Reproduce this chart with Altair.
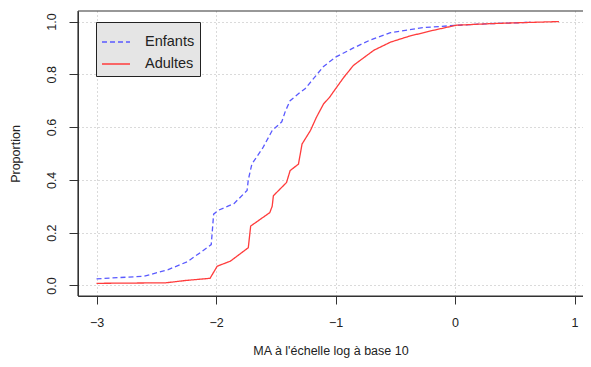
import altair as alt
import pandas as pd

enf_x = [-3.0, -2.6, -2.4, -2.24, -2.13, -2.04, -2.02, -1.98, -1.85, -1.74, -1.73, -1.70, -1.61, -1.53,
         -1.45, -1.42, -1.38, -1.30, -1.255, -1.10, -1.0, -0.85, -0.71, -0.54, -0.27, 0.02, 0.29, 0.57, 0.63]
enf_y = [0.025, 0.035, 0.06, 0.09, 0.125, 0.155, 0.27, 0.285, 0.31, 0.36, 0.40, 0.46, 0.52, 0.587,
         0.62, 0.66, 0.70, 0.73, 0.745, 0.83, 0.865, 0.90, 0.93, 0.958, 0.977, 0.986, 0.992, 0.996, 1.0]

adu_x = [-3.0, -2.42, -2.25, -2.05, -1.99, -1.88, -1.73, -1.71, -1.55, -1.53, -1.52, -1.41, -1.38, -1.31,
         -1.28, -1.21, -1.16, -1.10, -1.05, -1.0, -0.93, -0.85, -0.68, -0.54, -0.38, -0.18, 0.01, 0.29, 0.57, 0.87]
adu_y = [0.008, 0.01, 0.019, 0.027, 0.073, 0.092, 0.143, 0.225, 0.276, 0.30, 0.34, 0.39, 0.435, 0.46,
         0.536, 0.587, 0.637, 0.688, 0.713, 0.745, 0.789, 0.834, 0.891, 0.922, 0.945, 0.967, 0.986, 0.992, 0.996, 1.0]

groups = ["Enfants", "Adultes"]
x_ticks = [-3, -2, -1, 0, 1]
y_ticks = [0.0, 0.2, 0.4, 0.6, 0.8, 1.0]
x_lim = [-3.155, 1.071]
y_lim = [-0.04, 1.04]

df = pd.concat([
    pd.DataFrame({"x": enf_x, "y": enf_y, "g": groups[0]}),
    pd.DataFrame({"x": adu_x, "y": adu_y, "g": groups[1]}),
])

W, H = 505, 285
font = "Liberation Sans"
ink = "#333333"

xscale = alt.Scale(domain=x_lim, nice=False, zero=False)
yscale = alt.Scale(domain=y_lim, nice=False, zero=False)

lines = alt.Chart(df).mark_line(strokeWidth=1.3).encode(
    x=alt.X("x:Q", scale=xscale,
            axis=alt.Axis(values=x_ticks, format="d", title="MA à l'échelle log à base 10",
                          grid=True, gridDash=[1, 3], gridColor="#b5b5b5",
                          domain=True, domainColor=ink, domainWidth=1,
                          tickColor=ink, tickSize=8, tickWidth=1,
                          labelPadding=12, labelFontSize=12.5, labelColor="#222222",
                          titleFontSize=12.5, titleColor="#222222", titleFontWeight="normal",
                          titlePadding=16, labelFont=font, titleFont=font)),
    y=alt.Y("y:Q", scale=yscale,
            axis=alt.Axis(values=y_ticks, format=".1f", title="Proportion",
                          grid=True, gridDash=[1, 3], gridColor="#b5b5b5",
                          domain=True, domainColor=ink, domainWidth=1,
                          tickColor=ink, tickSize=9, tickWidth=1,
                          labelAngle=270, labelAlign="center", labelBaseline="bottom",
                          labelPadding=11, labelFontSize=12.5, labelColor="#222222",
                          titleFontSize=12.5, titleColor="#222222", titleFontWeight="normal",
                          titlePadding=23, labelFont=font, titleFont=font)),
    color=alt.Color("g:N", scale=alt.Scale(domain=groups, range=["#5a5aff", "#ff3c3c"]),
                    legend=alt.Legend(title=None, orient="none", legendX=18, legendY=11,
                                      fillColor="#e5e5e5", strokeColor="#222222",
                                      padding=5, symbolType="stroke", symbolSize=784,
                                      symbolStrokeWidth=1.5, labelFontSize=14.5, labelFont=font,
                                      labelColor="#222222", labelOffset=14, rowPadding=-12)),
    strokeDash=alt.StrokeDash("g:N", scale=alt.Scale(domain=groups, range=[[5, 3], [1, 0]]),
                              legend=None),
    order="x:Q",
)

hrules = alt.Chart(pd.DataFrame({"t": y_lim})).mark_rule(color=ink, strokeWidth=1.2).encode(
    y=alt.Y("t:Q", scale=yscale)
)
vrule = alt.Chart(pd.DataFrame({"l": x_lim[:1]})).mark_rule(color=ink, strokeWidth=1.2).encode(
    x=alt.X("l:Q", scale=xscale)
)

chart = alt.layer(lines, hrules, vrule).properties(
    width=W, height=H,
    autosize=alt.AutoSizeParams(type="none"),
    padding={"left": 70, "top": 3, "right": 0, "bottom": 63},
).configure_view(stroke=None)

chart.save("out.html", embed_options={"renderer": "svg", "actions": False})
